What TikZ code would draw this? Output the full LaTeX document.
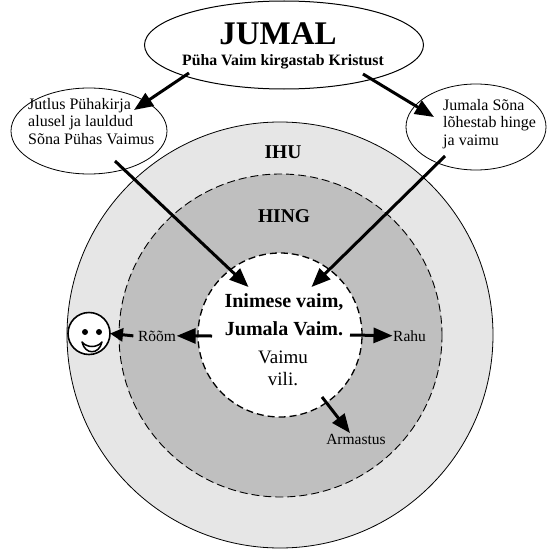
\documentclass[tikz,border=0pt]{standalone}
\usepackage{fontspec}
\setmainfont{Liberation Serif}
\usetikzlibrary{shapes.geometric,arrows.meta}
\definecolor{ihu}{HTML}{E6E6E6}
\definecolor{hing}{HTML}{BFBFBF}
\tikzset{
  lbl/.style={inner sep=0.5pt, anchor=base},
  arr/.style={line width=3pt, -{Triangle[length=19pt,width=15pt]}},
  arrsmall/.style={line width=3pt, -{Triangle[length=13pt,width=13pt]}},
  bubble/.style={ellipse, draw, fill=white, line width=0.8pt, inner sep=0pt, outer sep=0pt},
  ring/.style={circle, inner sep=0pt, outer sep=0pt},
  small/.style={font=\fontsize{15.5}{16}\selectfont},
  etext/.style={inner sep=0pt, anchor=base west, font=\fontsize{16}{17}\selectfont},
}
\begin{document}
\begin{tikzpicture}[x=1pt,y=-1pt]
\useasboundingbox (0,0) rectangle (549,551);
% circles
\node[ring, draw, line width=0.8pt, fill=ihu, minimum size=426pt] (ihu) at (280,335) {};
\node[ring, draw, line width=0.9pt, fill=hing, dash pattern=on 8pt off 4pt, minimum size=323pt] (hing) at (280.5,335.5) {};
\node[ring, draw, line width=1.3pt, fill=white, dash pattern=on 7pt off 4pt, minimum size=164pt] (vaim) at (280,335) {};
% bubbles
\node[bubble, line width=1pt, minimum width=279pt, minimum height=88pt] (jumal) at (284,45) {};
\node[bubble, minimum width=156pt, minimum height=86pt] (le) at (89,131) {};
\node[bubble, minimum width=140pt, minimum height=86pt] (re) at (476,127) {};
% texts
\node[lbl, font=\fontsize{33}{40}\selectfont\bfseries] (tjumal) at (278,45) {JUMAL};
\node[lbl, font=\fontsize{15.8}{18}\selectfont\bfseries] (tpuha) at (283,66) {Püha Vaim kirgastab Kristust};
\node[etext] (tle1) at (28,109) {Jutlus Pühakirja};
\node[etext] (tle2) at (28,126.5) {alusel ja lauldud};
\node[etext] (tle3) at (28,144) {Sõna Pühas Vaimus};
\node[etext] (tre1) at (443,110) {Jumala Sõna};
\node[etext] (tre2) at (443,127.5) {lõhestab hinge};
\node[etext] (tre3) at (443,145) {ja vaimu};
\node[lbl, font=\fontsize{19.5}{22}\selectfont\bfseries] (tihu) at (283,158) {IHU};
\node[lbl, font=\fontsize{19.5}{22}\selectfont\bfseries] (thing) at (284,222) {HING};
\node[lbl, font=\fontsize{20}{24}\selectfont\bfseries] (tin1) at (284,307) {Inimese vaim,};
\node[lbl, font=\fontsize{20}{24}\selectfont\bfseries] (tin2) at (284,335) {Jumala Vaim.};
\node[lbl, font=\fontsize{19}{22}\selectfont] (tv1) at (283,363) {Vaimu};
\node[lbl, font=\fontsize{19}{22}\selectfont] (tv2) at (283,385) {vili.};
\node[lbl, small] (room) at (157,341) {Rõõm};
\node[lbl, small, anchor=base west] (rahu) at (392.5,341) {Rahu};
\node[lbl, small] (armastus) at (356,444) {Armastus};
% smiley
\node[ring, draw, line width=1.6pt, fill=white, minimum size=42pt] (smiley) at (89,333.5) {};
\fill (85,332) circle (3pt);
\fill (99,332) circle (3pt);
\draw[line width=1.5pt, fill=white, line join=round] (82,342) .. controls (85,355) and (99,355) .. (102,342) .. controls (97,348) and (87,348) .. cycle;
% arrow endpoints
\coordinate (ls) at (189,73);
\coordinate (lt) at (134,110);
\coordinate (rs0) at (363,74);
\coordinate (rt) at (434,117);
\coordinate (les) at (115,161);
\coordinate (lin) at (248.5,287);
\coordinate (res) at (445,156);
\coordinate (rin) at (311.5,287);
\coordinate (rs) at (212,336);
\coordinate (hs) at (350,335);
\coordinate (as) at (322,397);
% arrows
\draw[arr] (ls) -- (lt);
\draw[arr] (rs0) -- (rt);
\draw[arr] (les) -- (lin);
\draw[arr] (res) -- (rin);
\draw[arr] (rs) -- (room.east);
\draw[arrsmall] ([xshift=-4pt]room.west) -- (smiley.east);
\draw[arr] (hs) -- (rahu.west);
\draw[arr] (as) -- ([xshift=-6pt]armastus.north);
\end{tikzpicture}
\end{document}
